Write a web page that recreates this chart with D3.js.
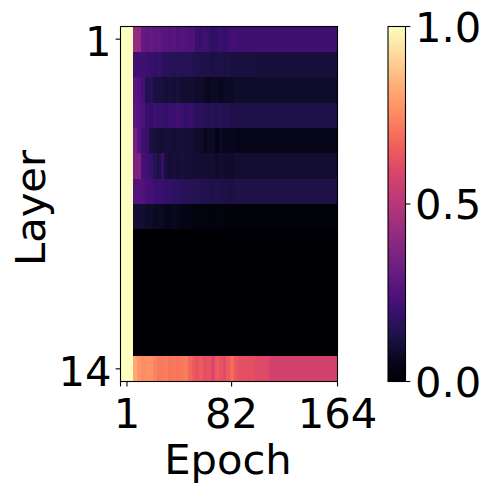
<!DOCTYPE html>
<html><head><meta charset="utf-8">
<style>html,body{margin:0;padding:0;background:#fff}svg{display:block}text{font-family:"DejaVu Sans";fill:#000}</style>
<script src="https://cdn.jsdelivr.net/npm/d3@7"></script></head><body>
<svg id="c" width="491" height="491"></svg>
<script>
const binStarts=[6,9,12,15,18,21,24,27,30,33,36,39,42,45,48,51,54,57,60,63,66,69,72,75,78,81,84,87,100,111];
const layer1=[.42,.41,.30,.29,.30,.29,.29,.27,.27,.26,.27,.25,.26,.25,.24,.25,.20,.19,.21,.19,.17,.18,.20,.18,.20,.22,.21,.21,.21,.21];
const layer2=[.21,.21,.21,.20,.19,.18,.19,.17,.16,.16,.15,.16,.15,.15,.16,.14,.14,.13,.13,.13,.12,.13,.13,.12,.13,.12,.115,.115,.11,.11];
const layer3=[.27,.25,.22,.14,.16,.12,.12,.11,.10,.11,.10,.11,.09,.09,.09,.09,.08,.08,.07,.06,.07,.07,.06,.07,.07,.07,.08,.08,.08,.08];
const layer4=[.28,.26,.24,.20,.18,.21,.19,.19,.18,.20,.20,.21,.20,.18,.20,.18,.16,.17,.16,.14,.15,.14,.15,.14,.15,.13,.13,.13,.13,.13];
const layer5=[.34,.26,.21,.19,.12,.11,.10,.10,.11,.11,.10,.11,.11,.10,.10,.09,.08,.08,.06,.07,.07,.04,.07,.06,.06,.06,.05,.05,.05,.05];
const layer6=[.36,.36,.23,.21,.19,.15,.13,.19,.11,.10,.11,.10,.11,.10,.10,.10,.10,.09,.09,.09,.09,.08,.09,.08,.08,.08,.09,.09,.09,.09];
const layer7=[.26,.26,.25,.23,.22,.20,.20,.19,.18,.18,.17,.17,.16,.16,.15,.15,.15,.14,.14,.14,.13,.14,.13,.13,.12,.12,.125,.125,.125,.125];
const layer8=[.09,.10,.09,.08,.08,.07,.07,.07,.05,.05,.06,.05,.04,.04,.04,.03,.03,.03,.03,.03,.02,.03,.03,.02,.02,.02,.02,.02,.02,.02];
const layer14=[.82,.78,.76,.77,.77,.74,.72,.72,.73,.71,.72,.71,.72,.73,.68,.65,.63,.65,.62,.63,.59,.65,.63,.61,.65,.69,.64,.62,.60,.57];
const layerValues=[layer1,layer2,layer3,layer4,layer5,layer6,layer7,layer8,null,null,null,null,null,layer14];
const layers=d3.range(1,15);
const firstBlockEnd=6, epochMin=-4, epochMax=164;
const xTicks=[1,82,164], yTicks=[1,14], cbTicks=[0,0.5,1];

const svg=d3.select("#c");
const x=d3.scaleLinear().domain([epochMin,epochMax]).range([120.5,337.5]);
const y=d3.scaleBand().domain(layers).range([26.5,381.5]);
const color=d3.scaleSequential(d3.interpolateMagma).domain([0,1]);
const g=svg.append("g").attr("shape-rendering","crispEdges");
layers.forEach((l,i)=>{
  g.append("rect").attr("x",x(epochMin)).attr("y",y(l)).attr("width",x(firstBlockEnd)-x(epochMin)).attr("height",y.bandwidth()).attr("fill",color(1));
  const vals=layerValues[i];
  binStarts.forEach((s,j)=>{
    const e=j+1<binStarts.length?binStarts[j+1]:epochMax;
    g.append("rect").attr("x",x(s)).attr("y",y(l)).attr("width",x(e)-x(s)).attr("height",y.bandwidth()).attr("fill",color(vals?vals[j]:0));
  });
});
const fs=41.67;
const frame=(x0,y0,w,h)=>svg.append("rect").attr("x",x0).attr("y",y0).attr("width",w).attr("height",h).attr("fill","none").attr("stroke","#000").attr("stroke-width",1.1);
frame(120.5,26.5,217,355);
const tick=(x1,y1,x2,y2)=>svg.append("line").attr("x1",x1).attr("y1",y1).attr("x2",x2).attr("y2",y2).attr("stroke","#000").attr("stroke-width",1.1);
const label=(t,px,py,anchor)=>svg.append("text").attr("x",px).attr("y",py).attr("text-anchor",anchor).attr("font-size",fs).text(t);
tick(x(epochMin),381.5,x(epochMin),386.4);
xTicks.forEach(t=>{tick(x(t),381.5,x(t),386.4);label(t,x(t),428,"middle");});
yTicks.forEach(t=>{const p=y(t)+y.bandwidth()/2;tick(120.5,p,115.6,p);label(t,111.5,p+17,"end");});
svg.append("text").attr("x",228).attr("y",474).attr("text-anchor","middle").attr("font-size",fs).text("Epoch");
svg.append("text").attr("transform","translate(45,208) rotate(-90)").attr("text-anchor","middle").attr("font-size",fs).text("Layer");
// colour bar
const cb=d3.scaleLinear().domain([0,1]).range([381.5,26.5]);
const defs=svg.append("defs");
const lg=defs.append("linearGradient").attr("id","mg").attr("x1",0).attr("x2",0).attr("y1",1).attr("y2",0);
d3.range(0,1.001,0.05).forEach(t=>lg.append("stop").attr("offset",t).attr("stop-color",color(t)));
svg.append("rect").attr("x",388).attr("y",cb(1)).attr("width",17.5).attr("height",cb(0)-cb(1)).attr("fill","url(#mg)");
frame(388,cb(1),17.5,cb(0)-cb(1));
cbTicks.forEach(t=>{tick(405.5,cb(t),410.4,cb(t));label(d3.format(".1f")(t),415,cb(t)+15,"start");});
</script></body></html>
